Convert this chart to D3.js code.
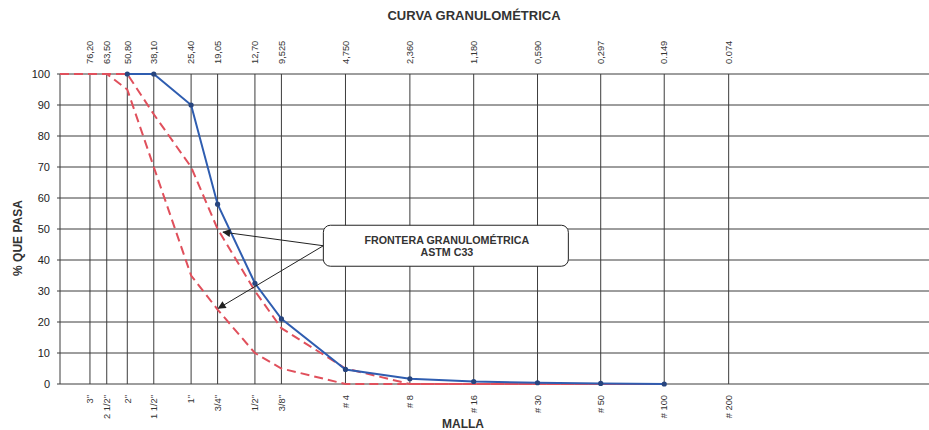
<!DOCTYPE html>
<html>
<head>
<meta charset="utf-8">
<script src="https://cdn.jsdelivr.net/npm/d3@7/dist/d3.min.js"></script>
<style>
  html, body { margin: 0; padding: 0; background: #ffffff; }
  svg { display: block; font-family: "Liberation Sans", Arial, sans-serif; }
</style>
</head>
<body>
<svg id="chart" width="929" height="430"></svg>
<script>
// Sieve openings (mm) and their labels
const sieveMm = [76.20, 63.50, 50.80, 38.10, 25.40, 19.05, 12.70, 9.525, 4.750, 2.360, 1.180, 0.590, 0.297, 0.149, 0.074];
const sizeLabels = ["76,20", "63,50", "50,80", "38,10", "25,40", "19,05", "12,70", "9,525", "4,750", "2,360", "1,180", "0,590", "0,297", "0.149", "0.074"];
const meshLabels = ['3"', '2 1/2"', '2"', '1 1/2"', '1"', '3/4"', '1/2"', '3/8"', '# 4', '# 8', '# 16', '# 30', '# 50', '# 100', '# 200'];
const pctTicks = [0, 10, 20, 30, 40, 50, 60, 70, 80, 90, 100];

// Sample gradation (% passing)
const sampleSizes = [50.80, 38.10, 25.40, 19.05, 12.70, 9.525, 4.750, 2.360, 1.180, 0.590, 0.297, 0.149];
const samplePass  = [100, 100, 90, 58, 32.5, 21, 4.7, 1.7, 0.8, 0.4, 0.2, 0];

// ASTM C33 gradation limits (% passing)
const upperSizes = [63.50, 50.80, 38.10, 25.40, 19.05, 12.70, 9.525, 4.750, 2.360, 1.180, 0.590, 0.297, 0.149];
const upperPass  = [100, 100, 87, 70, 50, 30, 18, 5, 0, 0, 0, 0, 0];
const lowerSizes = [63.50, 50.80, 38.10, 25.40, 19.05, 12.70, 9.525, 4.750, 2.360, 1.180, 0.590, 0.297, 0.149];
const lowerPass  = [100, 95, 70, 35, 24, 10, 5, 0, 0, 0, 0, 0, 0];

// Callout text and the points its arrows indicate (mm, % passing)
const calloutLines = ["FRONTERA GRANULOMÉTRICA", "ASTM C33"];
const calloutAnchor = [6.04, 44.6];
const calloutTargets = [[17.96, 49.0], [18.9, 24.4]];

const svg = d3.select("#chart");
const plotLeft = 60, plotRight = 929, plotTop = 74, plotBottom = 384;

const x = d3.scaleLog().domain([105.5, 0.0084]).range([plotLeft, plotRight]);
const y = d3.scaleLinear().domain([0, 100]).range([plotBottom, plotTop]);

const gridColor = "#3c3c3c";

// horizontal grid
svg.append("g").selectAll("line").data(pctTicks).join("line")
  .attr("x1", plotLeft - 3).attr("x2", plotRight)
  .attr("y1", d => y(d)).attr("y2", d => y(d))
  .attr("stroke", gridColor).attr("stroke-width", 1);

// left axis
svg.append("line").attr("x1", plotLeft).attr("x2", plotLeft).attr("y1", y(100)).attr("y2", y(0))
  .attr("stroke", gridColor).attr("stroke-width", 1);

// vertical grid at each sieve
svg.append("g").selectAll("line").data(sieveMm).join("line")
  .attr("x1", d => x(d)).attr("x2", d => x(d))
  .attr("y1", y(100)).attr("y2", y(0))
  .attr("stroke", gridColor).attr("stroke-width", 1);

// y tick labels
svg.append("g").selectAll("text").data(pctTicks).join("text")
  .attr("x", 50).attr("y", d => y(d)).attr("dy", "0.35em")
  .attr("text-anchor", "end").attr("font-size", 11).attr("fill", "#222")
  .text(d => d);

// top labels (mm)
svg.append("g").selectAll("text").data(sieveMm).join("text")
  .attr("transform", d => `translate(${x(d)},64) rotate(-90)`)
  .attr("dy", "0.35em").attr("text-anchor", "start")
  .attr("font-size", 9.3).attr("fill", "#333")
  .text((d, i) => sizeLabels[i]);

// bottom labels (mesh)
svg.append("g").selectAll("text").data(sieveMm).join("text")
  .attr("transform", d => `translate(${x(d)},395) rotate(-90)`)
  .attr("dy", "0.35em").attr("text-anchor", "end")
  .attr("font-size", 9.3).attr("fill", "#333")
  .text((d, i) => meshLabels[i]);

// titles
svg.append("text").attr("x", 474).attr("y", 20).attr("text-anchor", "middle")
  .attr("font-size", 13).attr("font-weight", "bold").attr("fill", "#333")
  .text("CURVA GRANULOMÉTRICA");
svg.append("text").attr("x", 463).attr("y", 428).attr("text-anchor", "middle")
  .attr("font-size", 12).attr("font-weight", "bold").attr("fill", "#333")
  .text("MALLA");
svg.append("text").attr("transform", "translate(22,238) rotate(-90)")
  .attr("text-anchor", "middle")
  .attr("font-size", 12).attr("font-weight", "bold").attr("fill", "#333")
  .text("% QUE PASA");

const line = d3.line().x(d => x(d[0])).y(d => y(d[1]));

// limit curves start at 100 % from the left edge of the scale
function limitPoints(sizes, pass) {
  return [[x.domain()[0], 100]].concat(sizes.map((s, i) => [s, pass[i]]));
}

const red = "#e0505c";
[limitPoints(upperSizes, upperPass), limitPoints(lowerSizes, lowerPass)].forEach(pts => {
  svg.append("path").datum(pts).attr("d", line)
    .attr("fill", "none").attr("stroke", red).attr("stroke-width", 2)
    .attr("stroke-dasharray", "9,5");
});

const samplePts = sampleSizes.map((s, i) => [s, samplePass[i]]);
svg.append("path").datum(samplePts).attr("d", line)
  .attr("fill", "none").attr("stroke", "#2f5db0").attr("stroke-width", 2);
svg.append("g").selectAll("circle").data(samplePts).join("circle")
  .attr("cx", d => x(d[0])).attr("cy", d => y(d[1])).attr("r", 2.6)
  .attr("fill", "#27457f");

// callout with arrows
svg.append("defs").append("marker")
  .attr("id", "arrow").attr("viewBox", "0 0 10 10").attr("refX", 9).attr("refY", 5)
  .attr("markerWidth", 9).attr("markerHeight", 8).attr("markerUnits", "userSpaceOnUse")
  .attr("orient", "auto")
  .append("path").attr("d", "M0,0 L10,5 L0,10 Z").attr("fill", "#222");

const ax = x(calloutAnchor[0]), ay = y(calloutAnchor[1]);
calloutTargets.forEach(t => {
  svg.append("line").attr("x1", ax).attr("y1", ay)
    .attr("x2", x(t[0])).attr("y2", y(t[1]))
    .attr("stroke", "#222").attr("stroke-width", 1)
    .attr("marker-end", "url(#arrow)");
});

const boxW = 245, boxH = 41;
svg.append("rect").attr("x", ax).attr("y", ay - 20.5).attr("width", boxW).attr("height", boxH)
  .attr("rx", 7).attr("ry", 7).attr("fill", "#fff").attr("stroke", "#222").attr("stroke-width", 1);
svg.append("g").selectAll("text").data(calloutLines).join("text")
  .attr("x", ax + boxW / 2 + 1).attr("y", (d, i) => ay - 5.5 + i * 12).attr("dy", "0.35em")
  .attr("text-anchor", "middle").attr("font-size", 10.7).attr("font-weight", "bold").attr("fill", "#333")
  .text(d => d);
</script>
</body>
</html>
